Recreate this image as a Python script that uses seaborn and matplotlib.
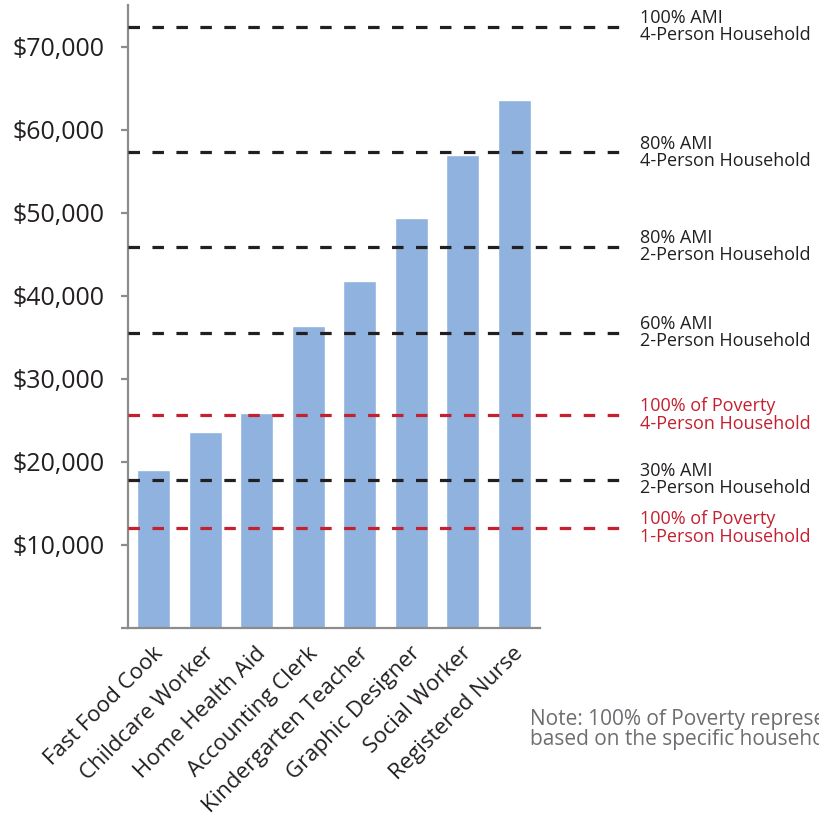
import matplotlib
matplotlib.use("Agg")
import matplotlib.pyplot as plt
import matplotlib.transforms as mtransforms
import seaborn as sns
import numpy as np
import pandas as pd

# Annual wages by occupation
occupations = ["Fast Food Cook", "Childcare Worker", "Home Health Aid", "Accounting Clerk",
               "Kindergarten Teacher", "Graphic Designer", "Social Worker", "Registered Nurse"]
wages = [19000, 23600, 25900, 36300, 41800, 49400, 57000, 63600]

# Income thresholds (reference lines)
threshold_labels = ["100% AMI\n4-Person Household", "80% AMI\n4-Person Household",
                    "80% AMI\n2-Person Household", "60% AMI\n2-Person Household",
                    "100% of Poverty\n4-Person Household", "30% AMI\n2-Person Household",
                    "100% of Poverty\n1-Person Household"]
threshold_values = [72400, 57250, 45900, 35550, 25650, 17850, 12050]
threshold_kind = ["ami", "ami", "ami", "ami", "poverty", "ami", "poverty"]

y_ticks = [0, 10000, 20000, 30000, 40000, 50000, 60000, 70000]
y_ticklabels = ["", "$10,000", "$20,000", "$30,000", "$40,000", "$50,000", "$60,000", "$70,000"]

note = ["Note: 100% of Poverty represents the federal poverty guideline",
        "based on the specific household size."]

BAR = "#8fb3de"
AMI = "#231f20"
POV = "#c4202f"
AXIS = "#8c8c8c"
INK = "#231f20"

sns.set_style("white")
plt.rcParams["font.family"] = ["Open Sans", "DejaVu Sans"]

fig = plt.figure(figsize=(8.19, 8.16), dpi=100)
ax = fig.add_axes([128 / 819, 1 - 628 / 816, 412 / 819, 623 / 816])

df = pd.DataFrame({"occupation": occupations, "wage": wages})
sns.barplot(data=df, x="occupation", y="wage", color=BAR, saturation=1,
            width=0.64, ax=ax, zorder=1)

ax.set_xlim(-0.5, len(occupations) - 0.5)
ax.set_ylim(0, 75000)

# dashed threshold lines reaching past the plot into the label column
x_end = -0.5 + 8 * (630 - 128) / 412
for lab, val, kind in zip(threshold_labels, threshold_values, threshold_kind):
    col = AMI if kind == "ami" else POV
    ax.plot([-0.5, x_end], [val, val], color=col, lw=2.3, ls=(0, (3.6, 3.9)),
            clip_on=False, zorder=3, solid_capstyle="butt", dash_capstyle="butt")
    ax.text(1.243, val, lab, transform=ax.get_yaxis_transform(), ha="left", va="center",
            fontsize=13, color=col, linespacing=0.95, clip_on=False)

ax.set_yticks(y_ticks)
ax.set_yticklabels(y_ticklabels, fontsize=18, color=INK)
ax.set_xticks(range(len(occupations)))
ax.set_xticklabels(occupations, fontsize=16, color=INK, rotation=45,
                   ha="right", va="center", rotation_mode="anchor")
ax.set_xticks(np.arange(-0.5, len(occupations)), minor=True)
ax.tick_params(axis="x", which="major", length=0, pad=16)
ax.tick_params(axis="x", which="minor", length=5, width=1.6, color=AXIS, direction="out")
ax.tick_params(axis="y", length=5, width=1.6, color=AXIS, direction="out", pad=12, left=True)
ax.set_xlabel("")
ax.set_ylabel("")

# nudge the slanted category labels a little to the right
shift = mtransforms.ScaledTranslation(6 / 100, 0, fig.dpi_scale_trans)
for t in ax.get_xticklabels():
    t.set_transform(t.get_transform() + shift)

for s in ["top", "right"]:
    ax.spines[s].set_visible(False)
for s in ["left", "bottom"]:
    ax.spines[s].set_color(AXIS)
    ax.spines[s].set_linewidth(1.6)

fig.text(530 / 819, 1 - 725 / 816, note[0], fontsize=15, color="#6d6e71", va="baseline", ha="left")
fig.text(530 / 819, 1 - 745 / 816, note[1], fontsize=15, color="#6d6e71", va="baseline", ha="left")

fig.savefig("out.png", dpi=100)
